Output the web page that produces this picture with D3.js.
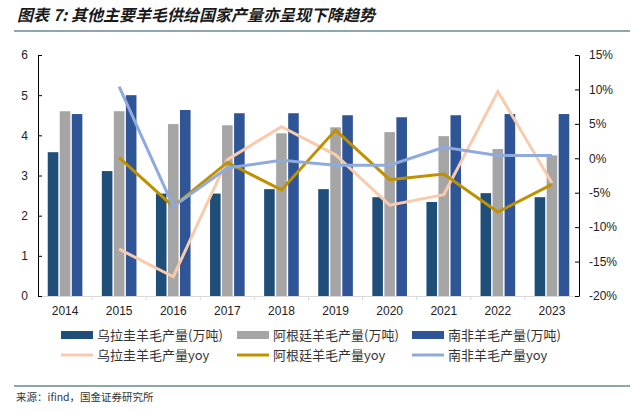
<!DOCTYPE html>
<html>
<head>
<meta charset="utf-8">
<script src="https://cdn.jsdelivr.net/npm/d3@7"></script>
<style>
  body { margin: 0; background: #fff; }
  text { font-family: "Liberation Sans", Arial, sans-serif; }
  .cn { font-family: "Noto Sans CJK SC", sans-serif; }
</style>
</head>
<body>
<svg id="chart" width="644" height="411"></svg>
<script>
const years = ['2014','2015','2016','2017','2018','2019','2020','2021','2022','2023']

// production, 10k tonnes
const uruguay = [3.58, 3.11, 2.55, 2.55, 2.66, 2.66, 2.46, 2.34, 2.56, 2.46]
const argentina = [4.6, 4.6, 4.28, 4.25, 4.05, 4.2, 4.08, 3.98, 3.66, 3.5]
const southAfrica = [4.53, 5.0, 4.63, 4.55, 4.55, 4.5, 4.45, 4.5, 4.53, 4.53]

// yoy, %  (no value for 2014)
const uruguayYoy = [null, -13.2, -17.2, -0.2, 4.6, 0.5, -6.8, -5.3, 9.7, -3.6]
const argentinaYoy = [null, 0.1, -7.0, -0.6, -4.6, 4.1, -3.1, -2.3, -7.8, -3.8]
const southAfricaYoy = [null, 10.4, -7.0, -1.4, -0.3, -1.0, -1.0, 1.6, 0.4, 0.4]

const leftTicks = [0, 1, 2, 3, 4, 5, 6]
const rightTicks = [-20, -15, -10, -5, 0, 5, 10, 15]

const barSeries = [
  { name: '乌拉圭羊毛产量(万吨)', values: uruguay, color: '#1f4e79' },
  { name: '阿根廷羊毛产量(万吨)', values: argentina, color: '#a5a5a5' },
  { name: '南非羊毛产量(万吨)', values: southAfrica, color: '#2f5597' }
]
const lineSeries = [
  { name: '乌拉圭羊毛产量yoy', values: uruguayYoy, color: '#f8cbad' },
  { name: '阿根廷羊毛产量yoy', values: argentinaYoy, color: '#bf9000' },
  { name: '南非羊毛产量yoy', values: southAfricaYoy, color: '#8faadc' }
]

const svg = d3.select('#chart')
const plotL = 38, plotR = 579, plotT = 55, plotB = 296

// title + rules
svg.append('text').attr('class', 'cn')
  .attr('x', 17).attr('y', 21)
  .style('font-size', '16px').style('font-weight', 'bold').style('font-style', 'italic')
  .attr('fill', '#1a1a1a')
  .text('图表 7: 其他主要羊毛供给国家产量亦呈现下降趋势')
svg.append('line').attr('x1', 14).attr('x2', 630).attr('y1', 31).attr('y2', 31)
  .attr('stroke', '#1f4e5a').attr('stroke-width', 1.2)
svg.append('line').attr('x1', 14).attr('x2', 630).attr('y1', 386).attr('y2', 386)
  .attr('stroke', '#1f4e5a').attr('stroke-width', 1.2)
svg.append('text').attr('class', 'cn')
  .attr('x', 16).attr('y', 401)
  .style('font-size', '10.5px').attr('fill', '#333')
  .text('来源：ifind，国金证券研究所')

const x = d3.scaleBand().domain(years).range([plotL, plotR])
const x1 = d3.scaleBand().domain(d3.range(3))
  .range([x.bandwidth() * 0.18, x.bandwidth() * 0.82]).paddingInner(0.12)
const yL = d3.scaleLinear().domain([0, 6]).range([plotB, plotT])
const yR = d3.scaleLinear().domain([-20, 15]).range([plotB, plotT])

// bars
barSeries.forEach((s, i) => {
  svg.append('g').selectAll('rect')
    .data(s.values)
    .enter().append('rect')
    .attr('x', (d, j) => x(years[j]) + x1(i))
    .attr('y', d => yL(d))
    .attr('width', x1.bandwidth())
    .attr('height', d => yL(0) - yL(d))
    .attr('fill', s.color)
})

// x axis
const xAxis = svg.append('g')
  .attr('transform', `translate(0,${plotB})`)
  .call(d3.axisBottom(x).tickSize(0).tickPadding(10))
xAxis.select('.domain').attr('stroke', '#d9d9d9')
xAxis.selectAll('text').style('font-size', '12px').attr('fill', '#222')
svg.append('g').selectAll('line')
  .data(years.slice(1))
  .enter().append('line')
  .attr('x1', d => x(d)).attr('x2', d => x(d))
  .attr('y1', plotB).attr('y2', plotB + 4)
  .attr('stroke', '#d9d9d9')

// left axis
const lAxis = svg.append('g')
  .attr('transform', `translate(${plotL},0)`)
  .call(d3.axisLeft(yL).tickValues(leftTicks).tickSize(-4).tickPadding(10).tickSizeOuter(0)
    .tickFormat(d3.format('d')))
lAxis.select('.domain').attr('stroke', '#000')
lAxis.selectAll('text').style('font-size', '12px').attr('fill', '#222')

// right axis
const rAxis = svg.append('g')
  .attr('transform', `translate(${plotR},0)`)
  .call(d3.axisRight(yR).tickValues(rightTicks).tickSize(-4).tickPadding(10).tickSizeOuter(0)
    .tickFormat(d => d + '%'))
rAxis.select('.domain').attr('stroke', '#000')
rAxis.selectAll('text').style('font-size', '12px').attr('fill', '#222')

// lines
const line = d3.line()
  .defined(d => d.v != null)
  .x(d => x(d.year) + x.bandwidth() / 2)
  .y(d => yR(d.v))

lineSeries.forEach(s => {
  svg.append('path')
    .datum(s.values.map((v, j) => ({ year: years[j], v: v })))
    .attr('d', line)
    .attr('fill', 'none')
    .attr('stroke', s.color)
    .attr('stroke-width', 3)
    .attr('stroke-linejoin', 'miter')
})

// legend
const legX = [61, 237, 412]
barSeries.forEach((s, i) => {
  svg.append('rect').attr('x', legX[i]).attr('y', 331).attr('width', 32).attr('height', 8)
    .attr('fill', s.color)
  svg.append('text').attr('class', 'cn').attr('x', legX[i] + 36).attr('y', 340)
    .style('font-size', '13px').attr('fill', '#333').text(s.name)
})
lineSeries.forEach((s, i) => {
  svg.append('line').attr('x1', legX[i]).attr('x2', legX[i] + 32)
    .attr('y1', 355).attr('y2', 355)
    .attr('stroke', s.color).attr('stroke-width', 3)
  svg.append('text').attr('class', 'cn').attr('x', legX[i] + 36).attr('y', 360)
    .style('font-size', '13px').attr('fill', '#333').text(s.name)
})
</script>
</body>
</html>
